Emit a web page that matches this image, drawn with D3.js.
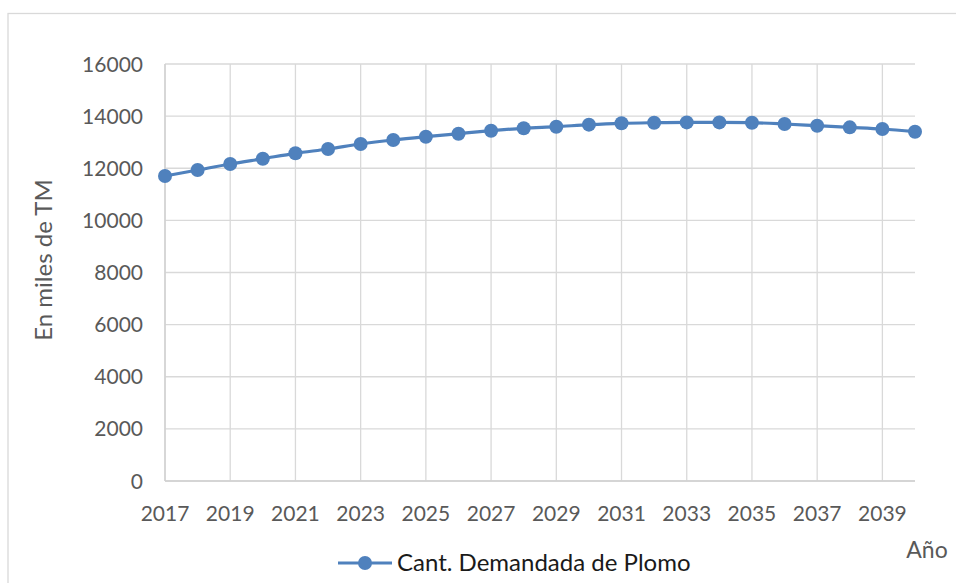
<!DOCTYPE html>
<html>
<head>
<meta charset="utf-8">
<script src="https://cdn.jsdelivr.net/npm/d3@7"></script>
<style>
  html, body { margin: 0; padding: 0; background: #fff; }
  svg { display: block; font-family: Lato, "Open Sans", sans-serif; }
</style>
</head>
<body>
<svg id="chart" width="956" height="583"></svg>
<script>
const years = [2017,2018,2019,2020,2021,2022,2023,2024,2025,2026,2027,2028,2029,2030,2031,2032,2033,2034,2035,2036,2037,2038,2039,2040];
const demanda = [11703,11933,12163,12367,12573,12739,12931,13084,13211,13326,13441,13533,13595,13672,13725,13748,13760,13760,13748,13698,13633,13570,13506,13403];
const yTicks = [0,2000,4000,6000,8000,10000,12000,14000,16000];
const xTickYears = [2017,2019,2021,2023,2025,2027,2029,2031,2033,2035,2037,2039];
const seriesName = "Cant. Demandada de Plomo";
const yTitle = "En miles de TM";
const xTitle = "Año";

const svg = d3.select("#chart");
const plotLeft = 165, plotRight = 915, plotTop = 64, plotBottom = 481;

// chart area border
svg.append("rect").attr("x", 8).attr("y", 13.5).attr("width", 960).attr("height", 600)
  .attr("fill", "#fff").attr("stroke", "#d9d9d9").attr("stroke-width", 1.3);

const x = d3.scaleLinear().domain([2017, 2040]).range([plotLeft, plotRight]);
const y = d3.scaleLinear().domain([0, 16000]).range([plotBottom, plotTop]);

// horizontal gridlines
svg.append("g").selectAll("line").data(yTicks).join("line")
  .attr("x1", plotLeft).attr("x2", plotRight)
  .attr("y1", d => y(d)).attr("y2", d => y(d))
  .attr("stroke", "#d9d9d9").attr("stroke-width", 1.3);

// vertical gridlines
svg.append("g").selectAll("line").data(xTickYears).join("line")
  .attr("x1", d => x(d)).attr("x2", d => x(d))
  .attr("y1", plotTop).attr("y2", plotBottom)
  .attr("stroke", "#d9d9d9").attr("stroke-width", 1.3);

// axis lines
svg.append("line").attr("x1", plotLeft).attr("x2", plotRight).attr("y1", plotBottom).attr("y2", plotBottom)
  .attr("stroke", "#d0d0d0").attr("stroke-width", 1.3);
svg.append("line").attr("x1", plotLeft).attr("x2", plotLeft).attr("y1", plotTop).attr("y2", plotBottom)
  .attr("stroke", "#d0d0d0").attr("stroke-width", 1.3);

// y tick labels
svg.append("g").selectAll("text").data(yTicks).join("text")
  .attr("x", 143).attr("y", d => y(d)).attr("dy", "0.36em")
  .attr("text-anchor", "end").attr("fill", "#595959").attr("font-size", 21)
  .text(d => d);

// x tick labels
svg.append("g").selectAll("text").data(xTickYears).join("text")
  .attr("x", d => x(d)).attr("y", 521)
  .attr("text-anchor", "middle").attr("fill", "#595959").attr("font-size", 21)
  .text(d => d);

// axis titles
svg.append("text").attr("transform", "translate(52,260) rotate(-90)")
  .attr("text-anchor", "middle").attr("fill", "#595959").attr("font-size", 24)
  .text(yTitle);
svg.append("text").attr("x", 927).attr("y", 558)
  .attr("text-anchor", "middle").attr("fill", "#595959").attr("font-size", 23)
  .text(xTitle);

// series line
const data = years.map((yr, i) => ({yr, v: demanda[i]}));
const line = d3.line().x(d => x(d.yr)).y(d => y(d.v)).curve(d3.curveMonotoneX);
svg.append("path").datum(data).attr("d", line)
  .attr("fill", "none").attr("stroke", "#4f81bd").attr("stroke-width", 3.2);
svg.append("g").selectAll("circle").data(data).join("circle")
  .attr("cx", d => x(d.yr)).attr("cy", d => y(d.v)).attr("r", 7)
  .attr("fill", "#4f81bd");

// legend
const lg = svg.append("g");
lg.append("line").attr("x1", 338).attr("x2", 392).attr("y1", 563).attr("y2", 563)
  .attr("stroke", "#4f81bd").attr("stroke-width", 3.2);
lg.append("circle").attr("cx", 365).attr("cy", 563).attr("r", 7).attr("fill", "#4f81bd");
lg.append("text").attr("x", 397).attr("y", 571).attr("fill", "#1a1a1a").attr("font-size", 24)
  .text(seriesName);
</script>
</body>
</html>
